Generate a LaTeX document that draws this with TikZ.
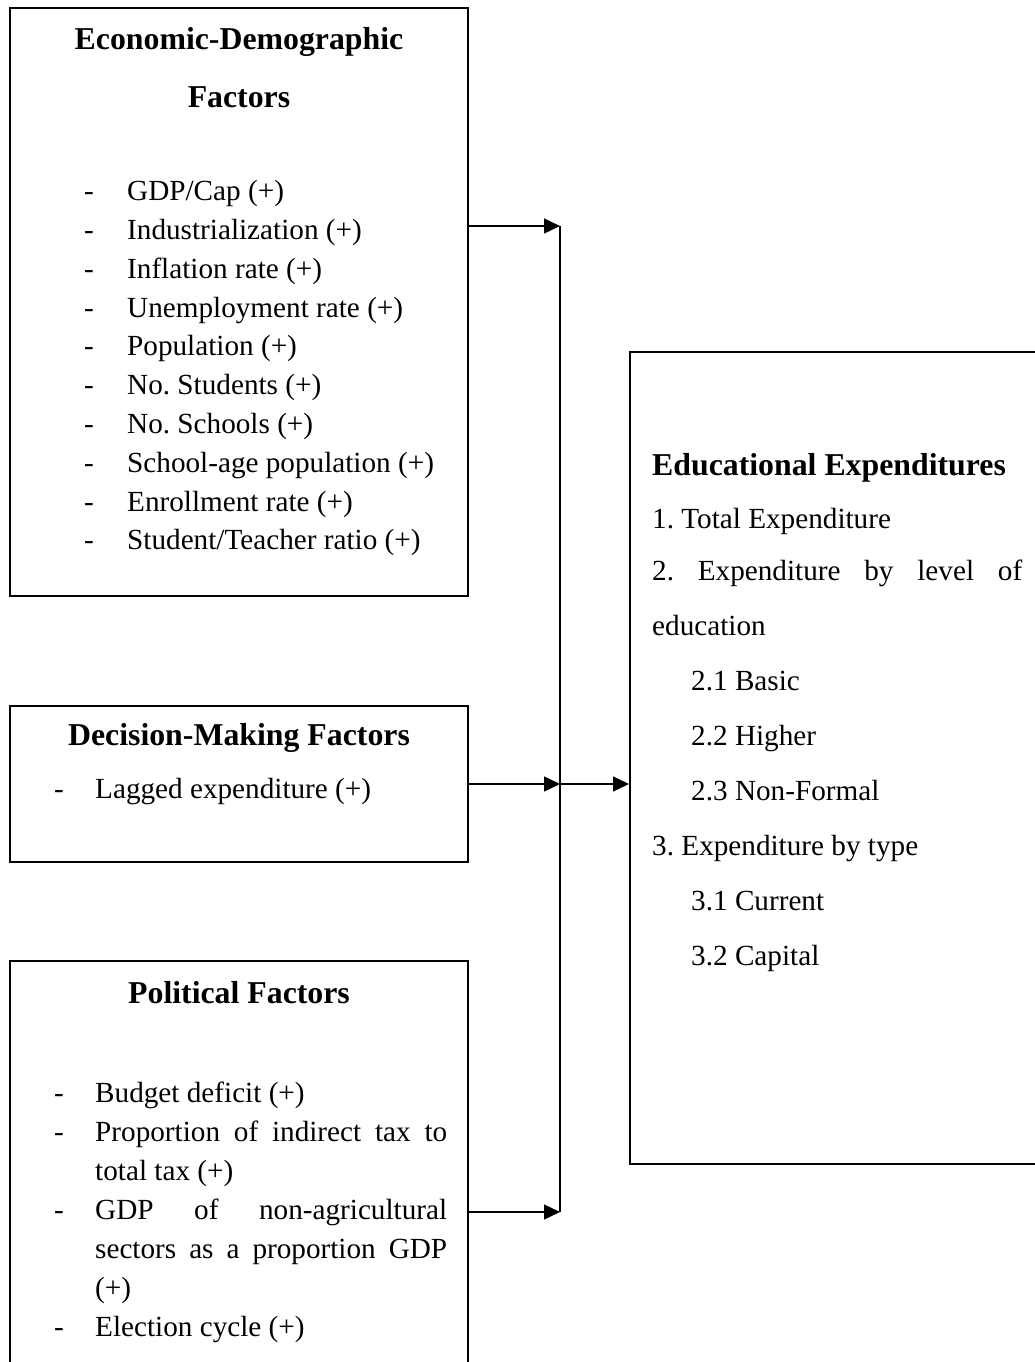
\documentclass[tikz,border=0pt]{standalone}
\usepackage{fontspec}
\setmainfont{Liberation Serif}
\usetikzlibrary{arrows.meta}
\newcommand{\bodysize}{\fontsize{29.2}{35}\selectfont}
\newcommand{\headsize}{\fontsize{31.8}{38}\selectfont\bfseries}
\frenchspacing
\begin{document}
\frenchspacing
\begin{tikzpicture}[x=1pt,y=-1pt,
  box/.style={draw, line width=2pt, minimum width=458pt, inner sep=0pt},
  txt/.style={inner sep=0pt, anchor=base west, font=\bodysize},
  head/.style={inner sep=0pt, anchor=base, font=\headsize},
  lead/.style={inner sep=0pt, anchor=base, font=\bodysize},
  link/.style={line width=1.3pt},
  arr/.style={line width=1.3pt, -{Triangle[length=16pt,width=15pt]}}]
\useasboundingbox (0,0) rectangle (1035,1362);
\clip (0,0) rectangle (1035,1362);

% factor boxes
\node[box, minimum height=588pt] (econ) at (239,302) {};
\node[box, minimum height=156pt] (dec) at (239,784) {};
\node[box, minimum height=440pt] (pol) at (239,1181) {};
% outcome box
\node[box, minimum width=420pt, minimum height=812pt] (res) at (840,758) {};

% economic-demographic factors
\node[head] (eh1) at (239,50) {Economic-Demographic};
\node[head] (eh2) at (239,108) {Factors};
\foreach \t [count=\i from 0] in {GDP/Cap (+), Industrialization (+), Inflation rate (+),
    Unemployment rate (+), Population (+), No. Students (+), No. Schools (+),
    School-age population (+), Enrollment rate (+), Student/Teacher ratio (+)} {
  \node[lead] (ed\i) at (89,200.6+38.8*\i) {-};
  \node[txt] (et\i) at (127,200.6+38.8*\i) {\t};
}

% decision-making factors
\node[head] (dh) at (239,745) {Decision-Making Factors};
\node[lead] (dd) at (59,798) {-};
\node[txt] (dt) at (95,798) {Lagged expenditure (+)};

% political factors
\node[head] (ph) at (239,1003) {Political Factors};
\node[lead] (pd1) at (59,1102) {-};
\node[txt] (pt1) at (95,1102) {Budget deficit (+)};
\node[lead] (pd2) at (59,1141) {-};
\node[txt] (pt2) at (95,1141) {\makebox[352pt][s]{Proportion of indirect tax to}};
\node[txt] (pt3) at (95,1180) {total tax (+)};
\node[lead] (pd4) at (59,1219) {-};
\node[txt] (pt4) at (95,1219) {\makebox[352pt][s]{GDP of non-agricultural}};
\node[txt] (pt5) at (95,1258) {\makebox[352pt][s]{sectors as a proportion GDP}};
\node[txt] (pt6) at (95,1297) {(+)};
\node[lead] (pd7) at (59,1336) {-};
\node[txt] (pt7) at (95,1336) {Election cycle (+)};

% educational expenditures
\node[txt, font=\headsize] (rh) at (652,475) {Educational Expenditures};
\node[txt] (r1) at (652,528) {1. Total Expenditure};
\node[txt] (r2) at (652,580) {\makebox[370pt][s]{2. Expenditure by level of}};
\node[txt] (r3) at (652,635) {education};
\node[txt] (r4) at (691,690) {2.1 Basic};
\node[txt] (r5) at (691,745) {2.2 Higher};
\node[txt] (r6) at (691,800) {2.3 Non-Formal};
\node[txt] (r7) at (652,855) {3. Expenditure by type};
\node[txt] (r8) at (691,910) {3.1 Current};
\node[txt] (r9) at (691,965) {3.2 Capital};

% connectors
\coordinate (jt) at (560,226);
\coordinate (jm) at (560,784);
\coordinate (jb) at (560,1212);
\draw[link] (jt) -- (jb);
\draw[arr] (econ.east |- jt) -- (jt);
\draw[arr] (dec.east |- jm) -- (jm);
\draw[arr] (pol.east |- jb) -- (jb);
\draw[arr] (jm) -- (jm -| res.west);
\end{tikzpicture}
\end{document}
